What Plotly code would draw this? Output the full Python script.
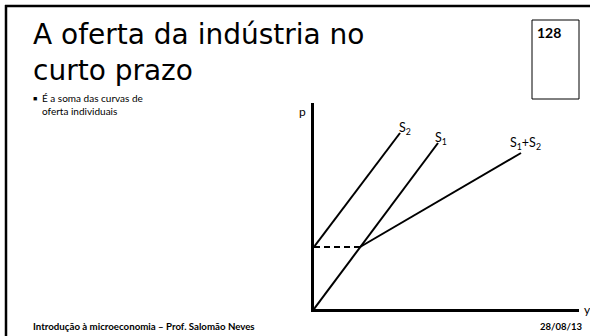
import plotly.graph_objects as go

W, H = 590, 336

# Supply curves (quantity y, price p), arbitrary units
s2_y = [0, 4.3]
s2_p = [3.1, 8.8]
s1_y = [0, 6.2]
s1_p = [0, 8.3]
sum_y = [2.3, 10.35]
sum_p = [3.1, 7.8]
dash_y = [0, 2.3]
dash_p = [3.1, 3.1]

labels = ["S<sub>2</sub>", "S<sub>1</sub>", "S<sub>1</sub>+S<sub>2</sub>"]
label_y = [4.55, 6.35, 10.55]
label_p = [9.05, 8.55, 8.3]

TITLE_FONT = "DejaVu Sans"
FONT = "Lato"


def px(x):
    return x / W


def py(y):
    return 1 - y / H


fig = go.Figure()

line = dict(color="black", width=2)
fig.add_trace(go.Scatter(x=s2_y, y=s2_p, mode="lines", line=line))
fig.add_trace(go.Scatter(x=s1_y, y=s1_p, mode="lines", line=line))
fig.add_trace(go.Scatter(x=sum_y, y=sum_p, mode="lines", line=line))
fig.add_trace(go.Scatter(x=dash_y, y=dash_p, mode="lines",
                         line=dict(color="black", width=2, dash="6px,4px")))

annotations = []
for t, xv, yv in zip(labels, label_y, label_p):
    annotations.append(dict(x=xv, y=yv, xref="x", yref="y", text=t, showarrow=False,
                            font=dict(family=FONT, size=12.5, color="black")))


def txt(text, x, y, size, bold=False, anchor="left", family=FONT):
    if bold:
        text = "<b>" + text + "</b>"
    annotations.append(dict(x=px(x), y=py(y), xref="paper", yref="paper", text=text,
                            showarrow=False, xanchor=anchor, yanchor="middle", align="left",
                            font=dict(family=family, size=size, color="black")))


txt("A oferta da indústria no<br>curto prazo", 31, 52, 28, family=TITLE_FONT)
txt("■", 31, 98, 7)
txt("É a soma das curvas de<br>oferta individuais", 40, 104, 10)
txt("128", 535, 32, 14, bold=True)
txt("p", 297, 112, 12)
txt("y", 587, 309, 12, anchor="center")
txt("Introdução à microeconomia – Prof. Salomão Neves", 31, 326, 9.7, bold=True)
txt("28/08/13", 584, 326, 9.5, bold=True, anchor="right")

shapes = [
    dict(type="line", xref="paper", yref="paper", x0=px(5), x1=1, y0=py(6), y1=py(6),
         line=dict(color="black", width=2.5)),
    dict(type="line", xref="paper", yref="paper", x0=px(6), x1=px(6), y0=py(5), y1=0,
         line=dict(color="black", width=2.5)),
    dict(type="rect", xref="paper", yref="paper", x0=px(532), x1=px(579), y0=py(20), y1=py(99),
         line=dict(color="black", width=1)),
]

fig.update_layout(
    width=W, height=H,
    margin=dict(l=0, r=0, t=0, b=0),
    paper_bgcolor="white", plot_bgcolor="white",
    showlegend=False,
    annotations=annotations,
    shapes=shapes,
    xaxis=dict(domain=[px(314), px(579)], range=[0, 13.25], showline=True, linecolor="black",
               linewidth=2.5, showgrid=False, zeroline=False, showticklabels=False, ticks=""),
    yaxis=dict(domain=[py(309), py(103)], range=[0, 10.3], showline=True,
               linecolor="black", linewidth=2.5, showgrid=False, zeroline=False,
               showticklabels=False, ticks=""),
)

# drop the page's default body margin so the slide sits at the window corner
fig.write_html("out.html", config={"displayModeBar": False},
               post_script="document.body.style.margin='0';document.body.style.overflow='hidden';")
